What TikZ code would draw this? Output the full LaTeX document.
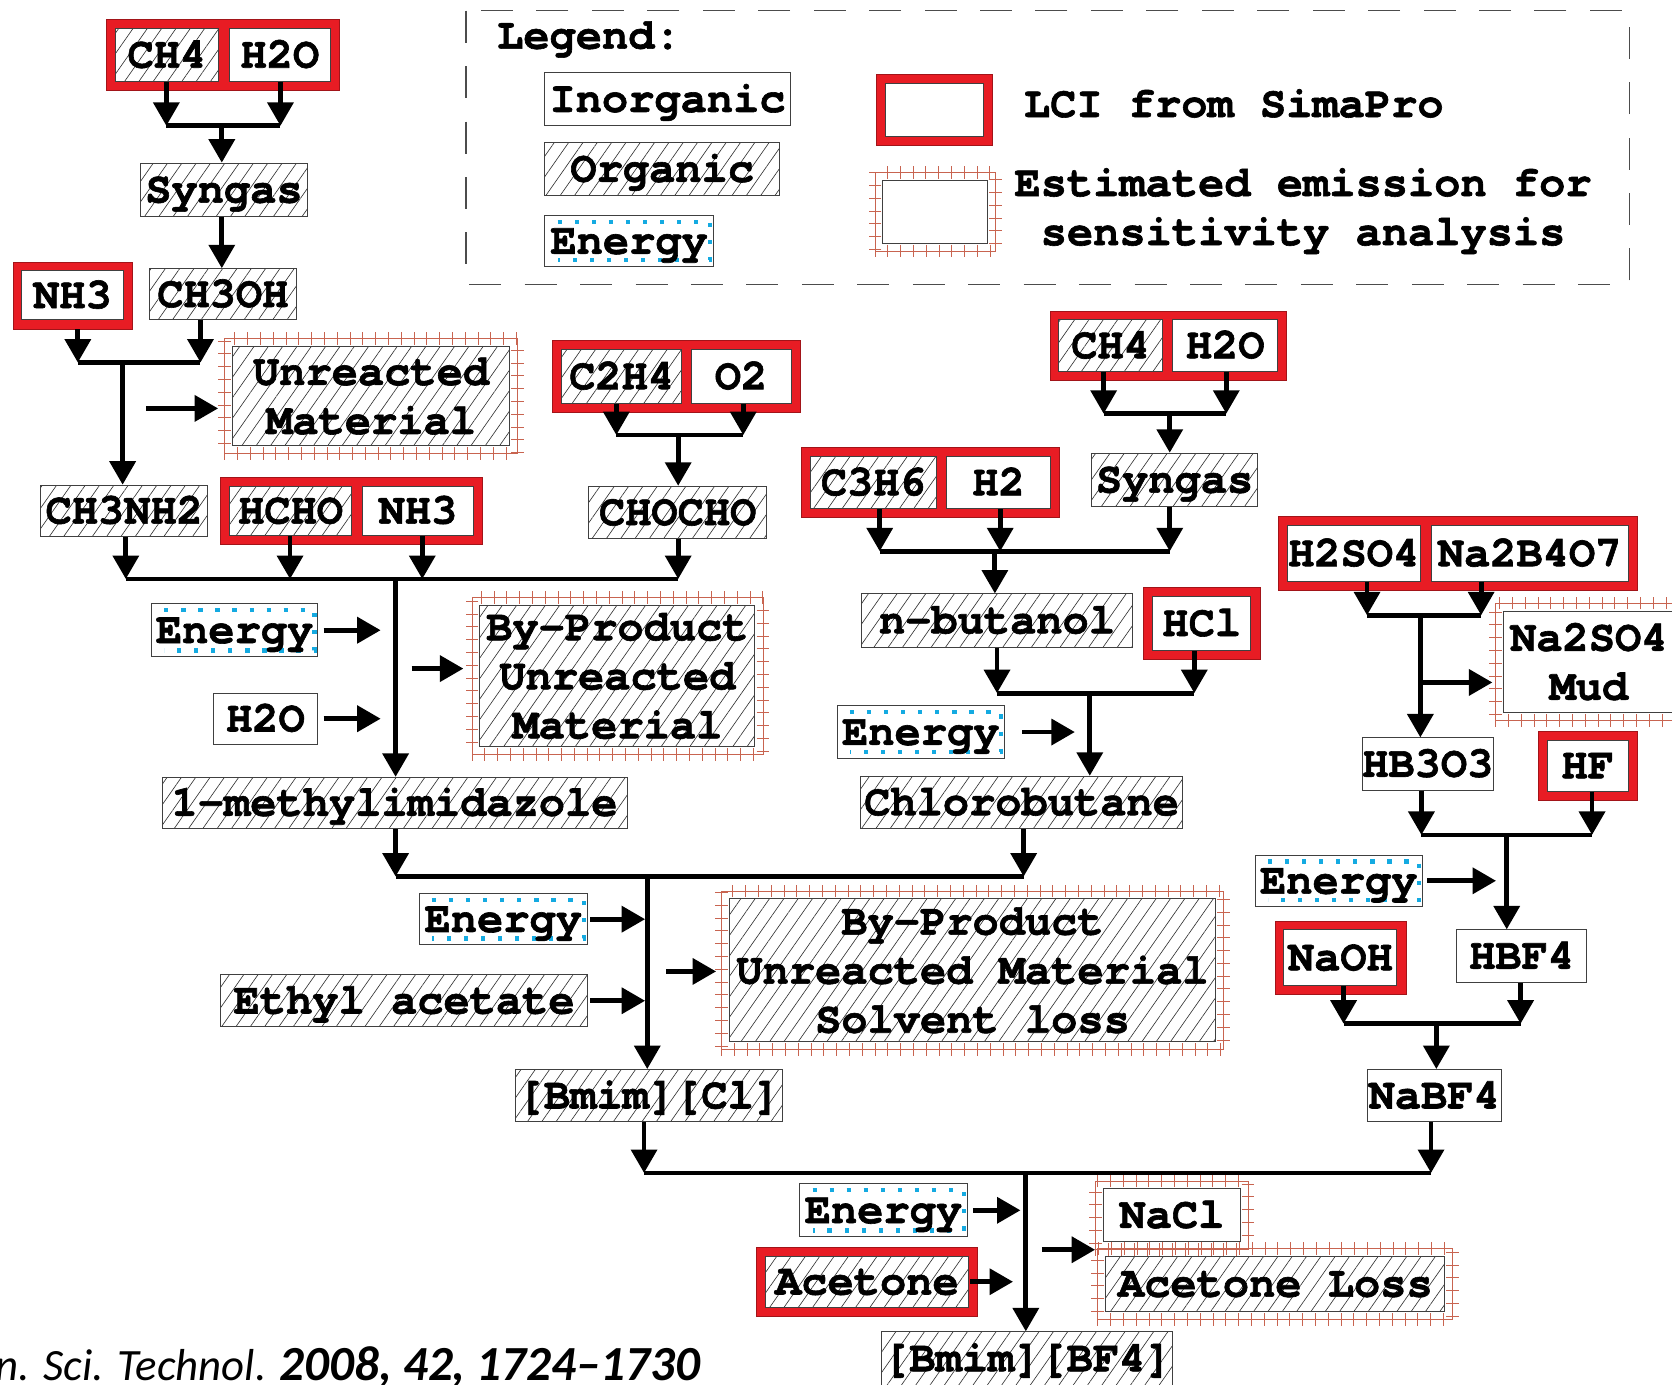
\documentclass[tikz,border=0pt]{standalone}
\usepackage{fontspec}
\newfontfamily\cur{texgyrecursor-bold.otf}[FakeBold=1.4]
\newfontfamily\calib{Carlito}
\usetikzlibrary{arrows.meta,patterns.meta,fit,backgrounds,decorations.pathreplacing,calc}
\definecolor{lcired}{RGB}{232,28,36}
\definecolor{estc}{RGB}{200,100,80}
\definecolor{ecyan}{RGB}{20,170,225}
\begin{document}
\begin{tikzpicture}[x=1pt,y=-1pt,
  txt/.style={inner sep=0pt, font=\cur\fontsize{41}{46}\selectfont, align=center},
  bxbase/.style={txt, draw=black!75, line width=0.9pt, text height=24pt, text depth=0pt},
  ml/.style={text height=, text depth=},
  inorg/.style={bxbase, fill=white},
  org/.style={bxbase, preaction={fill=white}, pattern={Lines[angle=55,distance=11pt,line width=0.6pt]}, pattern color=black!80},
  energy/.style={bxbase, fill=white, path picture={
     \draw[ecyan, line width=4pt, dash pattern=on 4pt off 12pt]
       ([xshift=12pt,yshift=-6pt]path picture bounding box.north west) --
       ([xshift=-3pt,yshift=-6pt]path picture bounding box.north east) --
       ([xshift=-3pt,yshift=6pt]path picture bounding box.south east) --
       ([xshift=12pt,yshift=6pt]path picture bounding box.south west);}},
  sz/.style 2 args={minimum width=#1pt, minimum height=#2pt},
  lci/.style={fill=lcired, draw=lcired!70!black, line width=0.6pt, inner sep=8pt},
  estf/.style={inner sep=7pt, draw=estc, line width=0.7pt,
     postaction={draw=estc, line width=0.7pt, decorate, decoration={ticks, segment length=12pt, amplitude=6pt}}},
  arr/.style={-{Triangle[width=24pt,length=22pt]}, line width=4.5pt},
  bar/.style={line width=4.5pt},
  legdash/.style={draw=black!70, line width=1.2pt, dash pattern=on 30pt off 22pt}
]
\useasboundingbox (0,0) rectangle (1568,1298);

% ---------------- Legend ----------------
\draw[legdash] (437,10) rectangle (1528,267);
\node[txt, anchor=west] (legt) at (466,37) {Legend:};
\node[inorg, sz={230}{50}] (lInorg) at (626,93) {Inorganic};
\node[org, sz={220}{49}] (lOrg) at (621,158.5) {Organic};
\node[energy, sz={158}{48}] (lEn) at (590,226) {Energy};
\node[inorg, sz={92}{50}] (lLci) at (876,103) {};
\node[inorg, sz={98}{59}] (lEst) at (877,198.5) {};
\node[estf, fit=(lEst)] (lEstF) {};
\node[txt, anchor=west] (lLciT) at (960,97) {LCI from SimaPro};
\node[txt] (lEstT) at (1222,198) {Estimated emission for\\sensitivity analysis};

% ---------------- Nodes ----------------
\node[org, sz={97}{49}] (tCH4) at (156.5,51.5) {CH4};
\node[inorg, sz={95}{49}] (tH2O) at (262.5,51.5) {H2O};
\node[org, sz={156}{50}] (syn1) at (210,178) {Syngas};
\node[inorg, sz={95}{46}] (nh3a) at (68,277) {NH3};
\node[org, sz={138}{48}] (ch3oh) at (209,276) {CH3OH};
\node[org, ml, sz={260}{93}] (unreact1) at (348,371.5) {Unreacted\\Material};
\node[org, sz={157}{48}] (ch3nh2) at (116.5,479) {CH3NH2};
\node[org, sz={115}{46}] (hcho) at (272.5,479) {HCHO};
\node[inorg, sz={104}{46}] (nh3b) at (392,479) {NH3};
\node[org, sz={113}{50}] (c2h4) at (583,353) {C2H4};
\node[inorg, sz={94}{50}] (o2) at (695,353) {O2};
\node[org, sz={167}{49}] (chocho) at (635.5,480.5) {CHOCHO};
\node[energy, sz={156}{50}] (energy1) at (220,591) {Energy};
\node[inorg, sz={98}{48}] (h2o2) at (249,674) {H2O};
\node[org, ml, sz={258}{132}] (byprod1) at (579,634) {By-Product\\Unreacted\\Material};
\node[org, sz={436}{48}] (mim) at (370,753) {1-methylimidazole};

\node[org, sz={97}{48}] (ch4b) at (1041.5,324) {CH4};
\node[inorg, sz={98}{48}] (h2ob) at (1149,324) {H2O};
\node[org, sz={155}{50}] (syn2) at (1101.5,450) {Syngas};
\node[org, sz={118}{49}] (c3h6) at (819,452.5) {C3H6};
\node[inorg, sz={97}{49}] (h2) at (936.5,452.5) {H2};
\node[org, sz={254}{50}] (nbut) at (935,582) {n-butanol};
\node[inorg, sz={92}{51}] (hcl) at (1127,584.5) {HCl};
\node[energy, sz={157}{49}] (energy2) at (863.5,686.5) {Energy};
\node[org, sz={302}{49}] (chloro) at (958,752.5) {Chlorobutane};
\node[energy, sz={158}{48}] (energy3) at (472,862) {Energy};
\node[org, sz={344}{49}] (ethyl) at (379,938.5) {Ethyl acetate};
\node[org, ml, sz={456}{134}] (byprod2) at (912,910) {By-Product\\Unreacted Material\\Solvent loss};
\node[org, sz={251}{49}] (bmimcl) at (608.5,1027.5) {[Bmim][Cl]};

\node[inorg, sz={125}{52}] (h2so4) at (1269.5,519) {H2SO4};
\node[inorg, sz={185}{52}] (na2b4o7) at (1434.5,519) {Na2B4O7};
\node[inorg, ml, sz={160}{95}] (na2so4) at (1490,620.5) {Na2SO4\\Mud};
\node[inorg, sz={122}{49}] (hb3o3) at (1339,716.5) {HB3O3};
\node[inorg, sz={76}{48}] (hf) at (1489,718) {HF};
\node[energy, sz={157}{48}] (energy4) at (1255.5,826) {Energy};
\node[inorg, sz={106}{52}] (naoh) at (1257,898) {NaOH};
\node[inorg, sz={122}{49}] (hbf4) at (1427,896.5) {HBF4};
\node[inorg, sz={126}{49}] (nabf4) at (1345,1027.5) {NaBF4};

\node[energy, sz={157}{50}] (energy5) at (828.5,1135) {Energy};
\node[org, sz={190}{48}] (acetone) at (813,1202) {Acetone};
\node[inorg, sz={128}{49}] (nacl) at (1099,1139.5) {NaCl};
\node[org, sz={318}{52}] (aloss) at (1196,1204) {Acetone Loss};
\node[org, sz={273}{50}] (bmimbf4) at (963.5,1274) {[Bmim][BF4]};

% estimated-emission frames
\node[estf, fit=(unreact1)] (unreact1F) {};
\node[estf, fit=(byprod1)] (byprod1F) {};
\node[estf, fit=(byprod2)] (byprod2F) {};
\node[estf, fit=(na2so4)] (na2so4F) {};
\node[estf, fit=(nacl)] (naclF) {};
\node[estf, fit=(aloss)] (alossF) {};

% LCI red frames
\begin{scope}[on background layer]
\node[lci, fit=(tCH4)(tH2O)] (fA) {};
\node[lci, fit=(nh3a)] (fB) {};
\node[lci, fit=(hcho)(nh3b)] (fC) {};
\node[lci, fit=(c2h4)(o2)] (fD) {};
\node[lci, fit=(ch4b)(h2ob)] (fE) {};
\node[lci, fit=(c3h6)(h2)] (fF) {};
\node[lci, fit=(hcl)] (fG) {};
\node[lci, fit=(h2so4)(na2b4o7)] (fH) {};
\node[lci, fit=(hf)] (fI) {};
\node[lci, fit=(naoh)] (fJ) {};
\node[lci, fit=(acetone)] (fK) {};
\node[lci, fit=(lLci)] (fL) {};
\end{scope}

% ---------------- Connectors ----------------
\coordinate (bA1) at (156,118); \coordinate (bA2) at (263,118); \coordinate (bA0) at (208,118);
\draw[arr] (tCH4.south -| bA1) -- (bA1);
\draw[arr] (tH2O.south -| bA2) -- (bA2);
\draw[bar] (bA1) -- (bA2);
\draw[arr] (bA0) -- (bA0 |- syn1.north);
\draw[arr] (syn1.south -| bA0) -- (bA0 |- ch3oh.north);

\coordinate (bB1) at (73,340); \coordinate (bB2) at (188,340); \coordinate (bB0) at (115,340);
\draw[arr] (fB.south -| bB1) -- (bB1);
\draw[arr] (ch3oh.south -| bB2) -- (bB2);
\draw[bar] (bB1) -- (bB2);
\draw[arr] (bB0) -- (bB0 |- ch3nh2.north);
\coordinate (oB) at (137,383);
\draw[arr, shorten >=13pt] (oB) -- (oB -| unreact1.west);

\coordinate (bD1) at (578,408); \coordinate (bD2) at (697,408); \coordinate (bD0) at (636,408);
\draw[arr] (c2h4.south -| bD1) -- (bD1);
\draw[arr] (o2.south -| bD2) -- (bD2);
\draw[bar] (bD1) -- (bD2);
\draw[arr] (bD0) -- (bD0 |- chocho.north);

\coordinate (bE1) at (118,543); \coordinate (bE2) at (272,543); \coordinate (bE3) at (396,543);
\coordinate (bE4) at (636,543); \coordinate (bE0) at (371,543);
\draw[arr] (ch3nh2.south -| bE1) -- (bE1);
\draw[arr] (hcho.south -| bE2) -- (bE2);
\draw[arr] (nh3b.south -| bE3) -- (bE3);
\draw[arr] (chocho.south -| bE4) -- (bE4);
\draw[bar] (bE1) -- (bE4);
\draw[arr] (bE0) -- (bE0 |- mim.north);
\draw[arr, shorten <=5pt, shorten >=14pt] (energy1.east) -- (energy1.east -| bE0);
\draw[arr, shorten <=5pt, shorten >=14pt] (h2o2.east) -- (h2o2.east -| bE0);
\coordinate (oE) at (386,627);
\draw[arr, shorten >=15pt] (oE) -- (oE -| byprod1.west);

\coordinate (bF1) at (1035,388); \coordinate (bF2) at (1150,388); \coordinate (bF0) at (1097,388);
\draw[arr] (ch4b.south -| bF1) -- (bF1);
\draw[arr] (h2ob.south -| bF2) -- (bF2);
\draw[bar] (bF1) -- (bF2);
\draw[arr] (bF0) -- (bF0 |- syn2.north);

\coordinate (bG1) at (825,517); \coordinate (bG2) at (938,517); \coordinate (bG3) at (1097,517); \coordinate (bG0) at (933,517);
\draw[arr] (c3h6.south -| bG1) -- (bG1);
\draw[arr] (h2.south -| bG2) -- (bG2);
\draw[arr] (syn2.south -| bG3) -- (bG3);
\draw[bar] (bG1) -- (bG3);
\draw[arr] (bG0) -- (bG0 |- nbut.north);

\coordinate (bH1) at (935,650); \coordinate (bH2) at (1120,650); \coordinate (bH0) at (1022,650);
\draw[arr] (nbut.south -| bH1) -- (bH1);
\draw[arr] (hcl.south -| bH2) -- (bH2);
\draw[bar] (bH1) -- (bH2);
\draw[arr] (bH0) -- (bH0 |- chloro.north);
\draw[arr, shorten <=16pt, shorten >=14pt] (energy2.east) -- (energy2.east -| bH0);

\coordinate (bI1) at (371,822); \coordinate (bI2) at (960,822); \coordinate (bI0) at (607,822);
\draw[arr] (mim.south -| bI1) -- (bI1);
\draw[arr] (chloro.south -| bI2) -- (bI2);
\draw[bar] (bI1) -- (bI2);
\draw[arr] (bI0) -- (bI0 |- bmimcl.north);
\draw[arr, shorten <=2pt, shorten >=2pt] (energy3.east) -- (energy3.east -| bI0);
\draw[arr, shorten <=2pt, shorten >=2pt] (ethyl.east) -- (ethyl.east -| bI0);
\coordinate (oI) at (625,911);
\draw[arr, shorten >=12pt] (oI) -- (oI -| byprod2.west);

\coordinate (bJ1) at (1282,577); \coordinate (bJ2) at (1389,577); \coordinate (bJ0) at (1332,577);
\draw[arr] (h2so4.south -| bJ1) -- (bJ1);
\draw[arr] (na2b4o7.south -| bJ2) -- (bJ2);
\draw[bar] (bJ1) -- (bJ2);
\draw[arr] (bJ0) -- (bJ0 |- hb3o3.north);
\coordinate (oJ) at (1332,640);
\draw[arr, shorten >=10pt] (oJ) -- (oJ -| na2so4.west);

\coordinate (bK1) at (1333,783); \coordinate (bK2) at (1493,783); \coordinate (bK0) at (1413,783);
\draw[arr] (hb3o3.south -| bK1) -- (bK1);
\draw[arr] (hf.south -| bK2) -- (bK2);
\draw[bar] (bK1) -- (bK2);
\draw[arr] (bK0) -- (bK0 |- hbf4.north);
\draw[arr, shorten <=4pt, shorten >=10pt] (energy4.east) -- (energy4.east -| bK0);

\coordinate (bL1) at (1260,960); \coordinate (bL2) at (1426,960); \coordinate (bL0) at (1347,960);
\draw[arr] (naoh.south -| bL1) -- (bL1);
\draw[arr] (hbf4.south -| bL2) -- (bL2);
\draw[bar] (bL1) -- (bL2);
\draw[arr] (bL0) -- (bL0 |- nabf4.north);

\coordinate (bM1) at (604,1100); \coordinate (bM2) at (1342,1100); \coordinate (bM0) at (962,1100);
\draw[arr] (bmimcl.south -| bM1) -- (bM1);
\draw[arr] (nabf4.south -| bM2) -- (bM2);
\draw[bar] (bM1) -- (bM2);
\draw[arr] (bM0) -- (bM0 |- bmimbf4.north);
\draw[arr, shorten <=5pt, shorten >=5pt] (energy5.east) -- (energy5.east -| bM0);
\draw[arr, shorten <=1pt, shorten >=12pt] (acetone.east) -- (acetone.east -| bM0);
\coordinate (oM) at (977,1172); \coordinate (lossin) at (1027,1172);
\draw[arr] (oM) -- (lossin);

% citation
\node[inner sep=0pt, anchor=base west, font=\calib\fontsize{42}{42}\selectfont\itshape] (cite) at (-4,1295) {n. Sci. Technol. {\bfseries\fontsize{46}{46}\selectfont 2008, 42, 1724–1730}};
\end{tikzpicture}
\end{document}
